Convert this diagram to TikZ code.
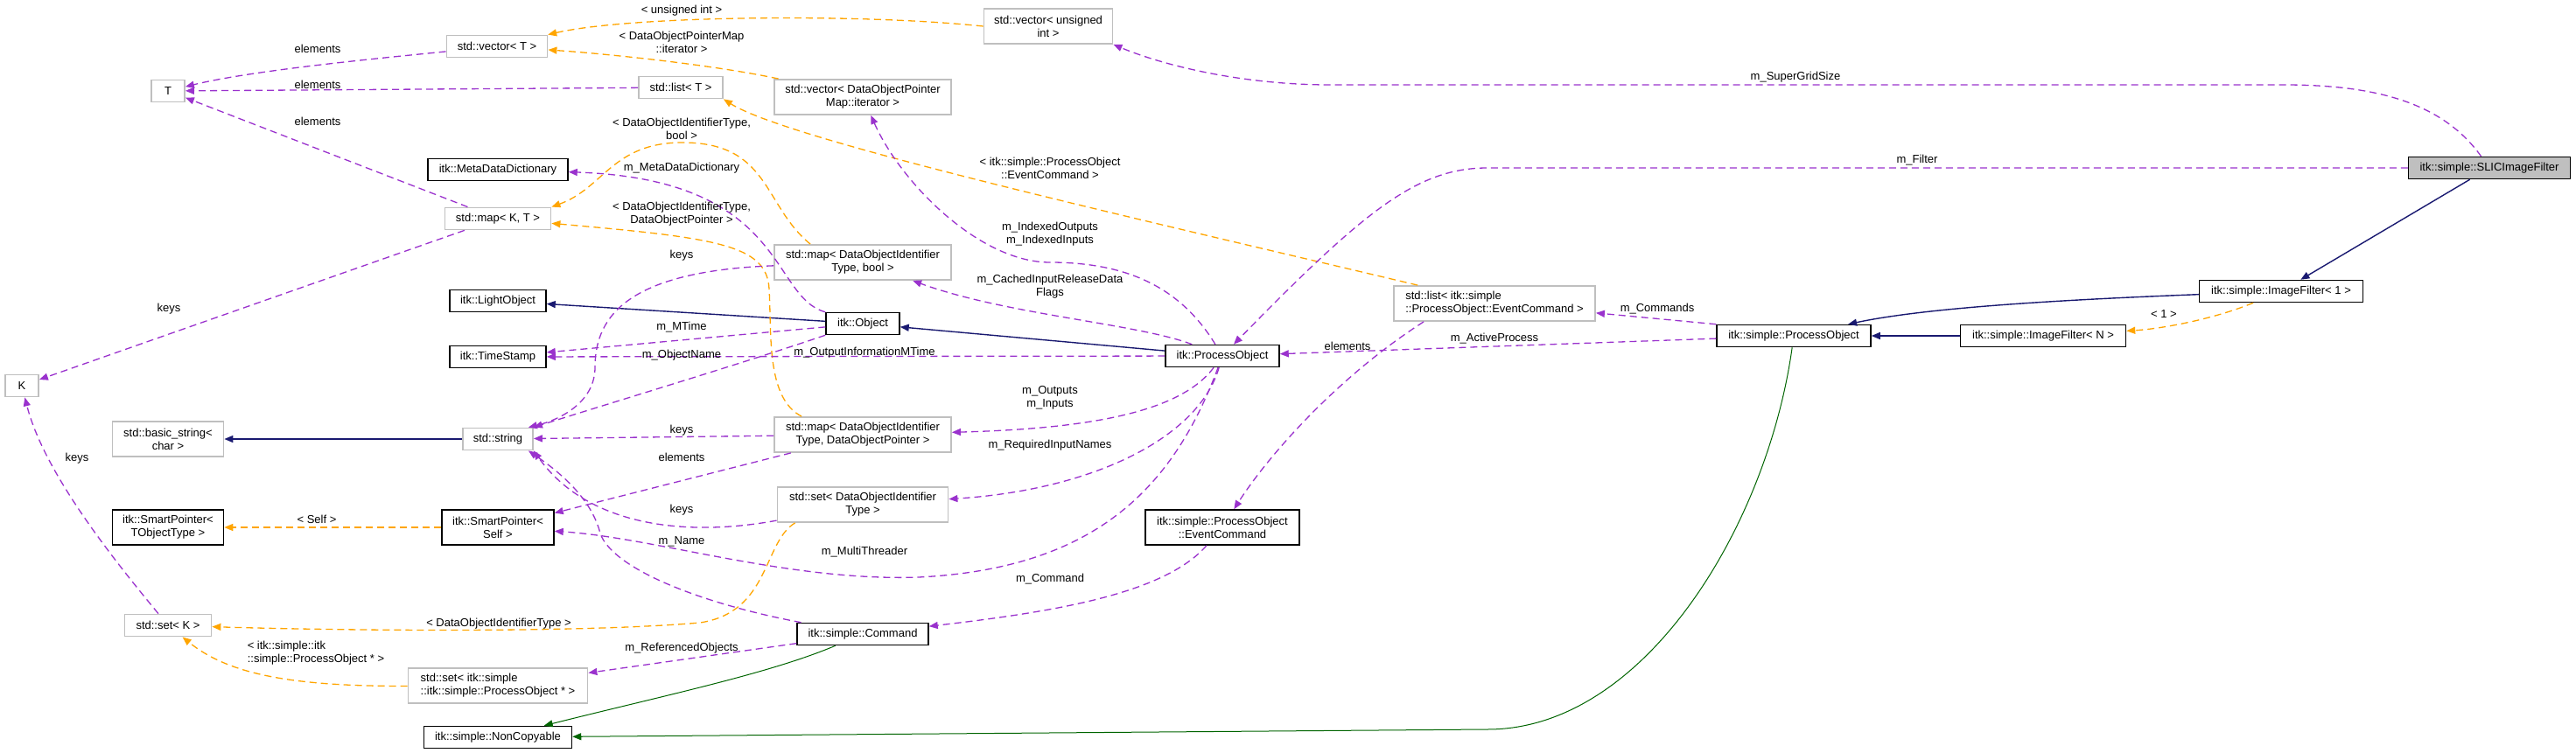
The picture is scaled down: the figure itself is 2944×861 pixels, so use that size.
\documentclass[tikz,border=0pt]{standalone}
\usepackage{fontspec}
\setmainfont{Liberation Sans}
\usetikzlibrary{arrows.meta}
\definecolor{memberpurple}{HTML}{9A32CD}
\definecolor{tmplorange}{HTML}{FFA500}
\definecolor{inhnavy}{HTML}{191970}
\definecolor{privgreen}{HTML}{006400}
\definecolor{boxgray}{HTML}{BFBFBF}

\begin{document}
\begin{tikzpicture}[x=1pt, y=-1pt,
        box/.style={rectangle, fill=white, align=center, inner sep=0pt, minimum height=25pt, font=\fontsize{13}{15}\selectfont},
        cls/.style={box, draw=black, line width=1.5pt},
        ext/.style={box, draw=boxgray, line width=1.8pt},
        focus/.style={cls, fill=boxgray},
        twoline/.style={minimum height=40pt},
        lbl/.style={inner sep=0pt, align=center, font=\fontsize{13}{15}\selectfont},
        member/.style={-{Triangle[length=10pt, width=8pt]}, dash pattern=on 8pt off 5pt, line width=1.3pt, memberpurple},
        tmpl/.style={-{Triangle[length=10pt, width=8pt]}, dash pattern=on 8pt off 5pt, line width=1.3pt, tmplorange},
        inherit/.style={-{Triangle[length=10pt, width=8pt]}, line width=1.4pt, inhnavy},
        privinh/.style={-{Triangle[length=10pt, width=8pt]}, line width=1pt, privgreen}
    ]
        \useasboundingbox (0,0) rectangle (2944,861);

        \node[ext, minimum width=38pt] (T) at (192,104) {T};
        \node[ext, minimum width=38pt] (K) at (25,441) {K};
        \node[ext, minimum width=115pt] (vecT) at (568,53) {std::vector< T >};
        \node[ext, minimum width=96pt] (listT) at (778,100) {std::list< T >};
        \node[ext, twoline, minimum width=202pt] (vecIter) at (986,111) {std::vector< DataObjectPointer\\Map::iterator >};
        \node[cls, minimum width=160pt] (mdd) at (569,194) {itk::MetaDataDictionary};
        \node[ext, minimum width=121pt] (mapKT) at (569,250) {std::map< K, T >};
        \node[ext, twoline, minimum width=202pt] (mapBool) at (986,300) {std::map< DataObjectIdentifier\\Type, bool >};
        \node[cls, minimum width=110pt] (light) at (569,344) {itk::LightObject};
        \node[cls, minimum width=84pt] (obj) at (986,370) {itk::Object};
        \node[cls, minimum width=110pt] (stamp) at (569,408) {itk::TimeStamp};
        \node[ext, twoline, minimum width=147pt] (vecUInt) at (1198,30) {std::vector< unsigned\\int >};
        \node[ext, twoline, minimum width=127pt] (basicStr) at (192,502) {std::basic\_string<\\char >};
        \node[ext, minimum width=80pt] (str) at (569,502) {std::string};
        \node[ext, twoline, minimum width=202pt] (mapPtr) at (986,497) {std::map< DataObjectIdentifier\\Type, DataObjectPointer >};
        \node[cls, twoline, minimum width=127pt] (spObj) at (192,603) {itk::SmartPointer<\\TObjectType >};
        \node[cls, twoline, minimum width=128pt] (spSelf) at (569,603) {itk::SmartPointer<\\Self >};
        \node[ext, twoline, minimum width=195pt] (setId) at (986,577) {std::set< DataObjectIdentifier\\Type >};
        \node[ext, minimum width=99pt] (setK) at (192,715) {std::set< K >};
        \node[cls, minimum width=150pt] (cmd) at (986,725) {itk::simple::Command};
        \node[ext, twoline, align=left, minimum width=205pt] (setPO) at (569,784) {std::set< itk::simple\\::itk::simple::ProcessObject * >};
        \node[cls, minimum width=169pt] (nonCopy) at (569,843) {itk::simple::NonCopyable};
        \node[cls, minimum width=130pt] (itkPO) at (1397,407) {itk::ProcessObject};
        \node[ext, twoline, align=left, minimum width=230pt] (listCmd) at (1708,347) {std::list< itk::simple\\::ProcessObject::EventCommand >};
        \node[cls, twoline, minimum width=176pt] (evCmd) at (1397,603) {itk::simple::ProcessObject\\::EventCommand};
        \node[cls, minimum width=176pt] (simplePO) at (2050,384) {itk::simple::ProcessObject};
        \node[cls, minimum width=189pt] (filterN) at (2335,384) {itk::simple::ImageFilter< N >};
        \node[cls, minimum width=187pt] (filter1) at (2607,333) {itk::simple::ImageFilter< 1 >};
        \node[focus, minimum width=185pt] (slic) at (2845,192) {itk::simple::SLICImageFilter};

        \draw[inherit] (obj) -- (light);
        \draw[inherit] (itkPO) -- (obj);
        \draw[inherit] (str) -- (basicStr);
        \draw[inherit] (filterN) -- (simplePO);
        \draw[inherit] (filter1) .. controls (2350,343) and (2200,352) .. (simplePO);
        \draw[inherit] (slic) -- (filter1);
        \draw[privinh] (cmd) .. controls (880,770) and (760,795) .. (nonCopy);
        \draw[privinh] (simplePO) .. controls (2020,600) and (1880,834) .. (1700,834) -- (nonCopy);

        \draw[tmpl] (vecUInt.west) .. controls (980,15) and (720,18) .. (vecT);
        \draw[tmpl] (vecIter) .. controls (820,75) and (700,62) .. (vecT);
        \draw[tmpl] (listCmd) .. controls (1300,250) and (900,160) .. (listT.south east);
        \draw[tmpl] ([xshift=42pt]mapBool.north west) .. controls (872,235) and (880,163) .. (780,163) .. controls (700,163) and (690,215) .. (mapKT.north east);
        \draw[tmpl] ([xshift=32pt]mapPtr.north west) .. controls (875,455) and (882,380) .. (879,330) .. controls (876,280) and (820,272) .. (mapKT);
        \draw[tmpl] ([xshift=21pt]setId.south west) .. controls (872,620) and (880,700) .. (800,712) .. controls (650,725) and (350,720) .. (setK);
        \draw[tmpl] (setPO) .. controls (330,785) and (260,770) .. (setK);
        \draw[tmpl] (spSelf) -- (spObj);
        \draw[tmpl] (filter1) .. controls (2530,365) and (2470,376) .. (filterN);

        \draw[member] (vecT) .. controls (440,66) and (290,80) .. (T);
        \draw[member] (listT) -- (T);
        \draw[member] (mapKT) -- (T);
        \draw[member] (mapKT) -- (K);
        \draw[member] (setK) .. controls (130,640) and (50,540) .. (K);
        \draw[member] (obj.north west) .. controls (880,340) and (900,205) .. (mdd);
        \draw[member] (obj) -- (stamp);
        \draw[member] (itkPO) -- (stamp);
        \draw[member] (obj.south west) .. controls (850,415) and (700,460) .. (str.north east);
        \draw[member] (mapBool) .. controls (720,310) and (680,360) .. (680,420) .. controls (680,460) and (640,480) .. ([xshift=-6pt]str.north east);
        \draw[member] (mapPtr) -- (str);
        \draw[member] (mapPtr) -- (spSelf);
        \draw[member] (setId) .. controls (780,615) and (670,600) .. (str.south east);
        \draw[member] (cmd) .. controls (800,690) and (700,650) .. (686,610) .. controls (676,570) and (640,540) .. ([xshift=-6pt]str.south east);
        \draw[member] (itkPO) .. controls (1340,560) and (1250,650) .. (1050,660) .. controls (900,665) and (750,615) .. (spSelf);
        \draw[member] (itkPO) .. controls (1350,330) and (1290,300) .. (1200,300) .. controls (1120,300) and (1030,210) .. (vecIter);
        \draw[member] (itkPO) .. controls (1300,370) and (1150,360) .. (mapBool);
        \draw[member] (itkPO) .. controls (1350,470) and (1250,490) .. (mapPtr);
        \draw[member] (itkPO) .. controls (1370,500) and (1250,560) .. (setId);
        \draw[member] (simplePO) -- (itkPO);
        \draw[member] (simplePO.north west) -- (listCmd);
        \draw[member] ([xshift=35pt]listCmd.south west) .. controls (1530,430) and (1450,520) .. (evCmd);
        \draw[member] (evCmd) .. controls (1330,680) and (1200,700) .. (cmd);
        \draw[member] (cmd) -- (setPO);
        \draw[member] (slic) .. controls (2790,115) and (2710,97) .. (2610,97) -- (1520,97) .. controls (1420,97) and (1330,75) .. (vecUInt.south east);
        \draw[member] (slic) -- (1700,192) .. controls (1620,192) and (1560,240) .. (itkPO);

        \node[lbl] (lElemVec) at (363,56) {elements};
        \node[lbl] (lElemList) at (363,97) {elements};
        \node[lbl] (lElemMap) at (363,139) {elements};
        \node[lbl] (lKeysMap) at (193,353) {keys};
        \node[lbl] (lKeysSet) at (88,524) {keys};
        \node[lbl] (lUInt) at (779,12) {< unsigned int >};
        \node[lbl] (lIter) at (779,48) {< DataObjectPointerMap\\::iterator >};
        \node[lbl] (lIdBool) at (779,147) {< DataObjectIdentifierType,\\bool >};
        \node[lbl] (lMeta) at (779,192) {m\_MetaDataDictionary};
        \node[lbl] (lIdPtr) at (779,245) {< DataObjectIdentifierType,\\DataObjectPointer >};
        \node[lbl] (lKeysBool) at (779,292) {keys};
        \node[lbl] (lMTime) at (779,374) {m\_MTime};
        \node[lbl] (lObjName) at (779,406) {m\_ObjectName};
        \node[lbl] (lOutMTime) at (988,403) {m\_OutputInformationMTime};
        \node[lbl] (lKeysPtr) at (779,492) {keys};
        \node[lbl] (lElemPtr) at (779,523) {elements};
        \node[lbl] (lSelf) at (362,594) {< Self >};
        \node[lbl] (lKeysSetId) at (779,583) {keys};
        \node[lbl] (lName) at (779,619) {m\_Name};
        \node[lbl] (lThreader) at (988,631) {m\_MultiThreader};
        \node[lbl] (lIdType) at (570,713) {< DataObjectIdentifierType >};
        \node[lbl, align=left] (lPOPtr) at (361,747) {< itk::simple::itk\\::simple::ProcessObject * >};
        \node[lbl] (lRefObj) at (779,741) {m\_ReferencedObjects};
        \node[lbl] (lSuperGrid) at (2052,88) {m\_SuperGridSize};
        \node[lbl] (lEvCmd) at (1200,192) {< itk::simple::ProcessObject\\::EventCommand >};
        \node[lbl] (lIndexed) at (1200,268) {m\_IndexedOutputs\\m\_IndexedInputs};
        \node[lbl] (lCached) at (1200,328) {m\_CachedInputReleaseData\\Flags};
        \node[lbl] (lElemCmd) at (1540,396) {elements};
        \node[lbl] (lActive) at (1708,387) {m\_ActiveProcess};
        \node[lbl] (lCommands) at (1894,353) {m\_Commands};
        \node[lbl] (lInOut) at (1200,455) {m\_Outputs\\m\_Inputs};
        \node[lbl] (lReqNames) at (1200,509) {m\_RequiredInputNames};
        \node[lbl] (lCommand) at (1200,662) {m\_Command};
        \node[lbl] (lFilter) at (2191,183) {m\_Filter};
        \node[lbl] (lOne) at (2473,359) {< 1 >};
    \end{tikzpicture}
\end{document}
